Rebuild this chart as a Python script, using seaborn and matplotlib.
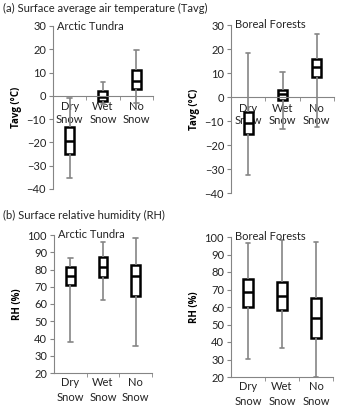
import pandas as pd
import numpy as np
import seaborn as sns
import matplotlib.pyplot as plt

# categories on x
categories = ["Dry\nSnow", "Wet\nSnow", "No\nSnow"]

# five-number summaries per category: [min, q1, median, q3, max]
tavg_tundra = [[-35.3, -25.1, -19.4, -13.4, -1.0],
               [-3.5, -2.2, -0.7, 2.0, 6.0],
               [-3.0, 2.9, 6.3, 11.0, 19.5]]
tavg_boreal = [[-32.3, -15.6, -11.0, -6.1, 18.4],
               [-13.5, -1.2, 1.2, 2.9, 10.4],
               [-12.4, 8.5, 12.6, 16.0, 26.2]]
rh_tundra = [[37.9, 70.8, 76.5, 81.3, 86.5],
             [62.1, 75.4, 81.2, 87.5, 95.8],
             [35.4, 64.4, 76.3, 82.5, 98.5]]
rh_boreal = [[30.5, 60.0, 68.4, 75.9, 96.5],
             [36.8, 58.1, 66.4, 74.3, 98.2],
             [20.0, 42.5, 54.0, 65.2, 97.0]]

sns.set_style("white")
plt.rcParams['font.family'] = ['Lato', 'DejaVu Sans']

fig = plt.figure(figsize=(3.37, 4.09), dpi=100)

W, H = 337.0, 409.0
def box(x0, x1, ytop, ybot):
    return [x0 / W, 1 - ybot / H, (x1 - x0) / W, (ybot - ytop) / H]

panels = [
    (tavg_tundra, "Arctic Tundra", "Tavg (°C)", (-40, 30), 10, box(53, 153, 26, 189), True),
    (tavg_boreal, "Boreal Forests", "Tavg (°C)", (-40, 30), 10, box(231, 334, 25, 193), True),
    (rh_tundra, "Arctic Tundra", "RH (%)", (20, 100), 10, box(54, 152, 235, 373), False),
    (rh_boreal, "Boreal Forests", "RH (%)", (20, 100), 10, box(231, 333, 237, 377), False),
]

gray = "#858585"
txt = "#222222"
fs = 8
for stats, name, ylab, ylim, step, pos, at_zero in panels:
    ax = fig.add_axes(pos)
    df = pd.DataFrame({
        "cat": np.repeat(categories, 5),
        "val": np.concatenate(stats),
    })
    sns.boxplot(data=df, x="cat", y="val", ax=ax, whis=(0, 100), width=0.27,
                fill=True, color="white", linecolor="black", linewidth=1.8,
                showfliers=False,
                whiskerprops=dict(color=gray, linewidth=1.2),
                capprops=dict(color=gray, linewidth=1.2))
    ax.set_ylim(*ylim)
    ax.set_xlim(-0.5, 2.5)
    ax.set_yticks(np.arange(ylim[0], ylim[1] + 1, step))
    ax.set_xlabel("")
    ax.set_ylabel(ylab, fontsize=7, fontweight="bold", labelpad=3,
                  family=["Open Sans", "DejaVu Sans"], color="black")
    ax.tick_params(axis="y", labelsize=fs, length=3, color=gray, direction="out",
                   left=True, pad=2, labelcolor=txt)
    ax.tick_params(axis="x", which="major", labelsize=fs, length=0,
                   pad=4 if at_zero else 3, labelcolor=txt)
    for lab in ax.get_xticklabels():
        lab.set_linespacing(1.4)
    ax.set_xticks([0.5, 1.5, 2.5], minor=True)
    ax.tick_params(axis="x", which="minor", length=3, color=gray, direction="out",
                   bottom=True)
    for s in ["top", "right"]:
        ax.spines[s].set_visible(False)
    for s in ["left", "bottom"]:
        ax.spines[s].set_color(gray)
        ax.spines[s].set_linewidth(0.8)
    if at_zero:
        ax.spines["bottom"].set_position(("data", 0))
    ax.text(0.04, 1.0, name, transform=ax.transAxes, fontsize=fs,
            ha="left", va="center", color=txt)

fig.text(3 / W, 1 - 8 / H, "(a) Surface average air temperature (Tavg)",
         fontsize=fs, ha="left", va="center", color=txt)
fig.text(3 / W, 1 - 215 / H, "(b) Surface relative humidity (RH)",
         fontsize=fs, ha="left", va="center", color=txt)

plt.savefig("out.png", dpi=100)
